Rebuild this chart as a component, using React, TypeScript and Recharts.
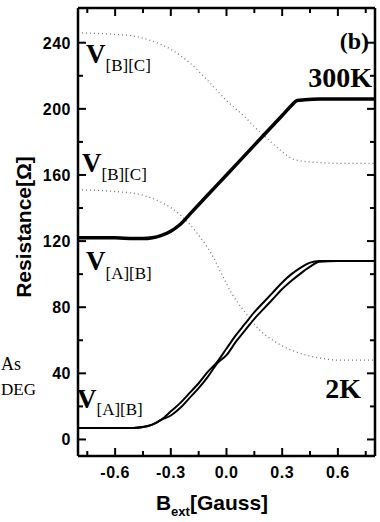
import React from 'react';
import { Line, LineChart, XAxis, YAxis } from 'recharts';

// 300K, solid thick curve
const x300 = [-0.8, -0.6, -0.5, -0.45, -0.4, -0.35, -0.3, -0.25, -0.2, -0.1, 0, 0.1, 0.2, 0.3, 0.35, 0.38, 0.42, 0.5, 0.6, 0.8];
const r300 = [122, 122, 121.5, 121.5, 122, 123.5, 126, 130, 136, 148, 160, 172, 184, 196, 202, 205, 205.5, 206, 206, 206];

// 2K, two sweep branches
const x2k = [-0.8, -0.7, -0.6, -0.5, -0.45, -0.4, -0.35, -0.3, -0.25, -0.2, -0.15, -0.1, -0.05, 0, 0.05, 0.1, 0.15, 0.2, 0.25, 0.3, 0.35, 0.4, 0.45, 0.5, 0.6, 0.7, 0.8];
const r2kUp = [7, 7, 7, 7, 7.5, 9, 12, 17, 22, 28, 34, 41, 47, 55, 63, 70, 77, 83, 89, 95, 100, 104, 107, 108, 108, 108, 108];
const r2kDown = [7, 7, 7, 7, 7.5, 9, 12, 14.5, 19, 25, 31, 38, 46, 51, 59, 66, 73, 79, 85, 91, 96, 100.5, 104.5, 107.5, 108, 108, 108];

// dotted curves V[B][C] and V[A][B] at 300K
const xBC = [-0.8, -0.6, -0.5, -0.4, -0.3, -0.2, -0.1, 0, 0.1, 0.17, 0.2, 0.3, 0.35, 0.4, 0.5, 0.6, 0.8];
const rBC = [246, 245, 244, 241, 236, 228, 217, 205, 195, 187, 184, 174, 170, 168.5, 167.5, 167, 167];
const xAB = [-0.8, -0.6, -0.46, -0.36, -0.25, -0.16, -0.07, -0.03, 0.03, 0.1, 0.18, 0.25, 0.33, 0.4, 0.52, 0.6, 0.8];
const rAB = [151, 150, 148, 144, 136, 125, 110, 101, 88, 77, 66, 60, 55, 52, 49, 48, 48];

const xMajor = [-0.6, -0.3, 0, 0.3, 0.6];
const xTicks = [-0.75, -0.6, -0.45, -0.3, -0.15, 0, 0.15, 0.3, 0.45, 0.6, 0.75];
const yMajor = [0, 40, 80, 120, 160, 200, 240];
const yTicks = [0, 20, 40, 60, 80, 100, 120, 140, 160, 180, 200, 220, 240];

const pts = (xs: number[], ys: number[]) => xs.map((x, i) => ({ x, r: ys[i] }));

const tickFont = { fontFamily: '"Liberation Sans", Arial, sans-serif', fontWeight: 700, fontSize: 16, letterSpacing: 0.5 };

const BottomTick = ({ x, y, payload }: any) => {
  const major = xMajor.includes(payload.value);
  return (
    <g>
      <line x1={x} x2={x} y1={y} y2={y - (major ? 8 : 5)} stroke="#000" strokeWidth={2} />
      {major && (
        <text x={x} y={y + 22} textAnchor="middle" fill="#000" style={tickFont}>
          {payload.value.toFixed(1)}
        </text>
      )}
    </g>
  );
};

const TopTick = ({ x, y, payload }: any) => {
  const major = xMajor.includes(payload.value);
  return <line x1={x} x2={x} y1={y} y2={y + (major ? 8 : 5)} stroke="#000" strokeWidth={2} />;
};

const LeftTick = ({ x, y, payload }: any) => {
  const major = yMajor.includes(payload.value);
  return (
    <g>
      <line x1={x} x2={x + (major ? 8 : 5)} y1={y} y2={y} stroke="#000" strokeWidth={2} />
      {major && (
        <text x={x - 7} y={y + 6} textAnchor="end" fill="#000" style={tickFont}>
          {payload.value}
        </text>
      )}
    </g>
  );
};

const RightTick = ({ x, y, payload }: any) => {
  const major = yMajor.includes(payload.value);
  return <line x1={x} x2={x - (major ? 8 : 5)} y1={y} y2={y} stroke="#000" strokeWidth={2} />;
};

const serif = '"Liberation Serif", "Times New Roman", serif';
const sans = '"Liberation Sans", Arial, sans-serif';

const axisLine = { stroke: '#000', strokeWidth: 2.5 };

export default function App() {
  return (
    <div style={{ position: 'absolute', left: 0, top: 0, width: 380, height: 522, background: '#fff' }}>
      <LineChart width={380} height={522} margin={{ top: 7, right: 4, left: 0, bottom: 0 }}>
        <XAxis
          xAxisId="b"
          type="number"
          dataKey="x"
          domain={[-0.8, 0.8]}
          ticks={xTicks}
          interval={0}
          height={66}
          axisLine={axisLine}
          tickLine={false}
          tickSize={0}
          tickMargin={0}
          tick={<BottomTick />}
          allowDataOverflow
        />
        <XAxis
          xAxisId="t"
          orientation="top"
          type="number"
          dataKey="x"
          domain={[-0.8, 0.8]}
          ticks={xTicks}
          interval={0}
          height={1}
          axisLine={axisLine}
          tickLine={false}
          tickSize={0}
          tickMargin={0}
          tick={<TopTick />}
          allowDataOverflow
        />
        <YAxis
          yAxisId="l"
          type="number"
          domain={[-10, 261]}
          ticks={yTicks}
          interval={0}
          width={78}
          axisLine={axisLine}
          tickLine={false}
          tickSize={0}
          tickMargin={0}
          tick={<LeftTick />}
          allowDataOverflow
        />
        <YAxis
          yAxisId="r"
          orientation="right"
          type="number"
          domain={[-10, 261]}
          ticks={yTicks}
          interval={0}
          width={1}
          axisLine={axisLine}
          tickLine={false}
          tickSize={0}
          tickMargin={0}
          tick={<RightTick />}
          allowDataOverflow
        />
        <Line xAxisId="b" yAxisId="l" data={pts(xBC, rBC)} dataKey="r" type="monotone" stroke="#777" strokeWidth={1.3} strokeDasharray="1 3" dot={false} isAnimationActive={false} />
        <Line xAxisId="b" yAxisId="l" data={pts(xAB, rAB)} dataKey="r" type="monotone" stroke="#777" strokeWidth={1.3} strokeDasharray="1 3" dot={false} isAnimationActive={false} />
        <Line xAxisId="b" yAxisId="l" data={pts(x300, r300)} dataKey="r" type="monotone" stroke="#000" strokeWidth={3.5} dot={false} isAnimationActive={false} />
        <Line xAxisId="b" yAxisId="l" data={pts(x2k, r2kUp)} dataKey="r" type="monotone" stroke="#000" strokeWidth={2} dot={false} isAnimationActive={false} />
        <Line xAxisId="b" yAxisId="l" data={pts(x2k, r2kDown)} dataKey="r" type="monotone" stroke="#000" strokeWidth={2} dot={false} isAnimationActive={false} />
      </LineChart>
      <svg width={380} height={522} style={{ position: 'absolute', left: 0, top: 0, pointerEvents: 'none' }}>
        <g fontFamily={serif} fill="#000">
          <text x={86} y={63} fontSize={27} fontWeight={700}>V<tspan fontSize={17} fontWeight={400} dy={8}>[B][C]</tspan></text>
          <text x={82} y={172} fontSize={27} fontWeight={700}>V<tspan fontSize={17} fontWeight={400} dy={8}>[B][C]</tspan></text>
          <text x={86} y={270} fontSize={27} fontWeight={700}>V<tspan fontSize={17} fontWeight={400} dy={9}>[A][B]</tspan></text>
          <text x={77} y={408} fontSize={27} fontWeight={700}>V<tspan fontSize={17} fontWeight={400} dy={7}>[A][B]</tspan></text>
          <text x={369} y={49} fontSize={24} fontWeight={700} textAnchor="end">(b)</text>
          <text x={372} y={87} fontSize={28} fontWeight={700} textAnchor="end">300K</text>
          <text x={361} y={398} fontSize={28} fontWeight={700} textAnchor="end">2K</text>
          <text x={1} y={370} fontSize={18}>As</text>
          <text x={1} y={395} fontSize={17}>DEG</text>
        </g>
        <text transform="translate(31,227) rotate(-90)" textAnchor="middle" fontFamily={sans} fontWeight={700} fontSize={21} fill="#000">
          Resistance[Ω]
        </text>
        <text x={212} y={510} textAnchor="middle" fontFamily={sans} fontWeight={700} fontSize={21} fill="#000">
          B<tspan fontSize={13} dy={6}>ext</tspan><tspan dy={-6}>[Gauss]</tspan>
        </text>
      </svg>
    </div>
  );
}
